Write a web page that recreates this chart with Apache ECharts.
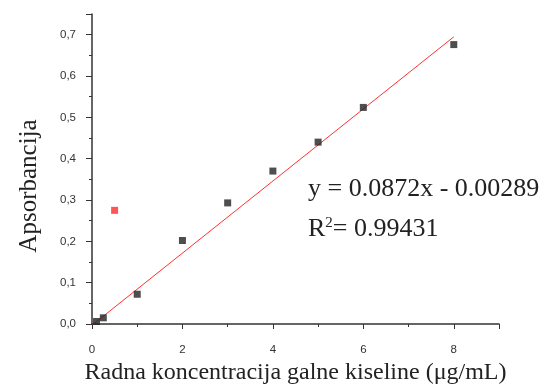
<!DOCTYPE html>
<html>
<head>
<meta charset="utf-8">
<script src="https://cdn.jsdelivr.net/npm/echarts@6/dist/echarts.min.js"></script>
<style>html,body{margin:0;padding:0;background:#fff}#c{width:547px;height:384px}</style>
</head>
<body>
<div id="c"></div>
<script>
// Data
var concentrations = [0.1, 0.25, 1, 2, 3, 4, 5, 6, 8];
var absorbances    = [0.006, 0.015, 0.072, 0.202, 0.293, 0.370, 0.440, 0.524, 0.676];
var outlierX = [0.5];
var outlierY = [0.275];
var fitX = [0, 8];
var fitY = [-0.00289, 0.69471];
var xTicks = [0, 2, 4, 6, 8];
var yTickLabels = ['0,0','0,1','0,2','0,3','0,4','0,5','0,6','0,7'];
var equationText = 'y = 0.0872x - 0.00289';
var r2Text = '0.99431';
var xTitle = 'Radna koncentracija galne kiseline (\u03bcg/mL)';
var yTitle = 'Apsorbancija';

function zip(a, b) { return a.map(function (v, i) { return [v, b[i]]; }); }

var chart = echarts.init(document.getElementById('c'), null, {renderer: 'canvas'});
var axisCol = '#333';
chart.setOption({
  animation: false,
  backgroundColor: '#fff',
  grid: {left: 92, right: 48, top: 14, bottom: 60, containLabel: false, outerBoundsMode: 'none'},
  xAxis: {
    type: 'value', min: 0, max: 9, interval: 2,
    axisLine: {show: true, lineStyle: {color: axisCol, width: 1.5}},
    axisTick: {show: true, length: 5, lineStyle: {color: axisCol, width: 1}},
    minorTick: {show: true, splitNumber: 2, length: 3, lineStyle: {color: axisCol, width: 1}},
    splitLine: {show: false},
    axisLabel: {
      margin: 20, color: '#333', fontFamily: 'Liberation Sans', fontSize: 11.5,
      formatter: function (v) { return xTicks.indexOf(v) >= 0 ? String(v) : ''; }
    },
    name: xTitle, nameLocation: 'middle', nameGap: 31,
    nameTextStyle: {fontFamily: 'Liberation Serif', fontSize: 24, color: '#222'}
  },
  yAxis: {
    type: 'value', min: 0, max: 0.75, interval: 0.1,
    axisLine: {show: true, lineStyle: {color: axisCol, width: 1.5}},
    axisTick: {show: true, length: 6, lineStyle: {color: axisCol, width: 1}},
    minorTick: {show: true, splitNumber: 2, length: 3, lineStyle: {color: axisCol, width: 1}},
    splitLine: {show: false},
    axisLabel: {
      margin: 16, color: '#333', fontFamily: 'Liberation Sans', fontSize: 11.5,
      formatter: function (v) { var i = Math.round(v * 10); return yTickLabels[i] || ''; }
    }
  },
  graphic: [
    {type: 'text', x: 29, y: 186, rotation: Math.PI / 2,
     style: {text: yTitle, fontFamily: 'Liberation Serif', fontSize: 25, fill: '#222', align: 'center', verticalAlign: 'middle'}},
    {type: 'text', x: 308, y: 189,
     style: {text: equationText, fontFamily: 'Liberation Serif', fontSize: 26, fill: '#222', align: 'left', verticalAlign: 'middle'}},
    {type: 'text', x: 308, y: 229,
     style: {text: '{b|R}{s|2}{b|= ' + r2Text + '}', align: 'left', verticalAlign: 'middle',
       rich: {
         b: {fontFamily: 'Liberation Serif', fontSize: 26, fill: '#222', color: '#222'},
         s: {fontFamily: 'Liberation Serif', fontSize: 15, fill: '#222', color: '#222', padding: [0, 0, 12, 0]}
       }}}
  ],
  series: [
    {type: 'line', data: zip(fitX, fitY), symbol: 'none', lineStyle: {color: '#ff3030', width: 1}, z: 1},
    {type: 'scatter', data: zip(concentrations, absorbances), symbol: 'rect', symbolSize: 7, itemStyle: {color: '#222'}, z: 3},
    {type: 'scatter', data: zip(outlierX, outlierY), symbol: 'rect', symbolSize: 7, itemStyle: {color: '#ff2a2a'}, z: 3}
  ]
});
</script>
</body>
</html>
